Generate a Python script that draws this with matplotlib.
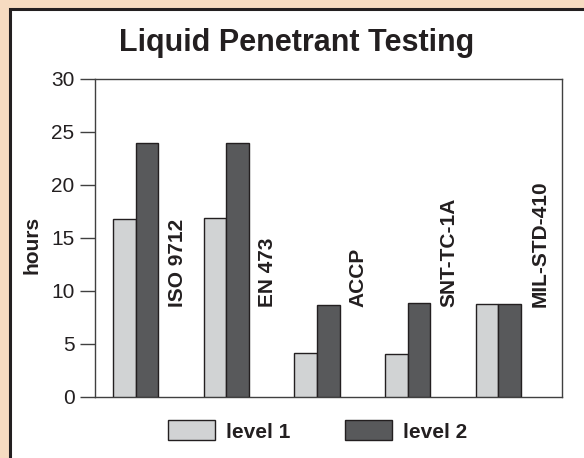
import matplotlib
matplotlib.use("Agg")
import matplotlib.pyplot as plt
from matplotlib.patches import Rectangle, Patch
import numpy as np

plt.rcParams['font.family'] = ['Liberation Sans', 'DejaVu Sans']

categories = ["ISO 9712", "EN 473", "ACCP", "SNT-TC-1A", "MIL-STD-410"]
level1 = [16.8, 16.9, 4.15, 4.05, 8.75]
level2 = [24.0, 24.0, 8.7, 8.85, 8.75]
yticks = [0, 5, 10, 15, 20, 25, 30]
series_names = ["level 1", "level 2"]

light = "#d1d3d4"
dark = "#58595b"
edge = "#231f20"
peach = "#f6dbc1"

W, H = 584, 458
fig = plt.figure(figsize=(W / 100, H / 100), dpi=100, facecolor=peach)

# white panel with dark border
panel = Rectangle((9.5 / W, -0.05), 1.2, (H - 9.5) / H + 0.05, transform=fig.transFigure,
                  facecolor="white", edgecolor=edge, linewidth=2.2, zorder=-10)
fig.patches.append(panel)

ax = fig.add_axes([95 / W, (H - 396.7) / H, (562 - 95) / W, (396.7 - 79) / H])
ax.set_facecolor("white")

x = np.arange(len(categories))
bw = 0.25
ax.bar(x - bw / 2, level1, width=bw, color=light, edgecolor=edge, linewidth=1.0, zorder=3)
ax.bar(x + bw / 2, level2, width=bw, color=dark, edgecolor=edge, linewidth=1.0, zorder=3)

for xi, name in zip(x, categories):
    ax.text(xi + 0.458, 8.5, name, rotation=90, ha="center", va="bottom",
            fontsize=15, fontweight="bold", color=edge)

ax.set_xlim(-0.4465, 4.702)
ax.set_ylim(0, 30)
ax.set_yticks(yticks)
ax.set_yticklabels([str(t) for t in yticks], fontsize=15, color=edge)
ax.set_xticks([])
ax.tick_params(axis="y", length=10.8, width=1.0, color="#404040", pad=4)
for s in ax.spines.values():
    s.set_color("#404040")
    s.set_linewidth(1.0)

fig.text(297 / W, (H - 51) / H, "Liquid Penetrant Testing", ha="center", va="baseline",
         fontsize=22, fontweight="bold", color=edge)
fig.text(31.7 / W, (H - 245) / H, "hours", rotation=90, ha="center", va="center",
         fontsize=15, fontweight="bold", color=edge)

handles = [Patch(facecolor=light, edgecolor=edge, linewidth=1.0),
           Patch(facecolor=dark, edgecolor=edge, linewidth=1.0)]
leg = fig.legend(handles, series_names, loc="center", bbox_to_anchor=(317.5 / W, (H - 431) / H),
                 ncol=2, frameon=False, handlelength=2.26, handleheight=1.1,
                 handletextpad=0.54, columnspacing=2.6,
                 prop={"size": 15, "weight": "bold"}, labelcolor=edge)

fig.savefig("out.png", dpi=100, facecolor=peach)
